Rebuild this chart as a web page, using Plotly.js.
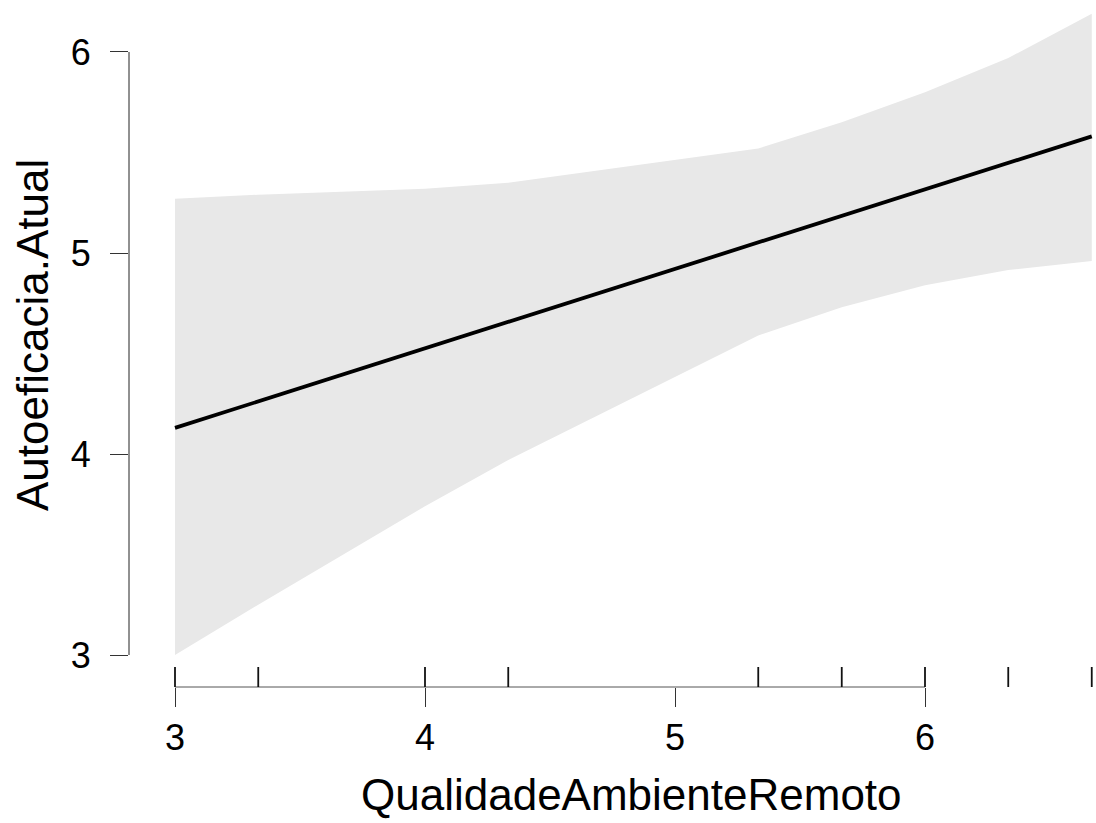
<!DOCTYPE html>
<html>
<head>
<meta charset="utf-8">
<script src="https://cdn.plot.ly/plotly-3.0.1.min.js"></script>
<style>html,body{margin:0;padding:0;background:#fff;}#chart{width:1096px;height:823px;}</style>
</head>
<body>
<div id="chart"></div>
<script>
// Data
const xGrid  = [3, 3.333, 4, 4.333, 5.333, 5.667, 6, 6.333, 6.667];
const upper  = [5.27, 5.29, 5.32, 5.35, 5.52, 5.65, 5.80, 5.97, 6.19];
const lower  = [3.00, 3.25, 3.74, 3.97, 4.59, 4.73, 4.84, 4.915, 4.96];
const fitX   = [3, 6.667];
const fitY   = [4.13, 5.58];
const rugX   = [3, 3.333, 4, 4.333, 5.333, 5.667, 6, 6.333, 6.667];
const xTicks = [3, 4, 5, 6];
const yTicks = [3, 4, 5, 6];
const xTitle = "QualidadeAmbienteRemoto";
const yTitle = "Autoeficacia.Atual";

const FONT = "Liberation Sans, Arial, sans-serif";

const traces = [
  {x: xGrid, y: lower, mode: "lines", line: {width: 0, color: "rgba(0,0,0,0)"}, hoverinfo: "skip", showlegend: false},
  {x: xGrid, y: upper, mode: "lines", fill: "tonexty", fillcolor: "#e8e8e8", line: {width: 0, color: "rgba(0,0,0,0)"}, hoverinfo: "skip", showlegend: false},
  {x: fitX, y: fitY, mode: "lines", line: {color: "#000", width: 3.8}, showlegend: false}
];

const shapes = [];
// x axis line spanning the tick range
shapes.push({type: "line", xref: "x", yref: "paper", x0: Math.min(...xTicks), x1: Math.max(...xTicks), y0: 0, y1: 0, line: {color: "#555", width: 1}});
// y axis line spanning the tick range
shapes.push({type: "line", xref: "paper", yref: "y", x0: 0, x1: 0, y0: Math.min(...yTicks), y1: Math.max(...yTicks), line: {color: "#222", width: 1}});
// rug
rugX.forEach(v => shapes.push({type: "line", xref: "x", yref: "paper", ysizemode: "pixel", yanchor: 0, x0: v, x1: v, y0: 0, y1: 20, line: {color: "#111", width: 1.8}}));

const layout = {
  width: 1096, height: 823,
  margin: {l: 129, r: 1, t: 5, b: 136},
  paper_bgcolor: "#fff", plot_bgcolor: "#fff",
  showlegend: false,
  font: {family: FONT, color: "#000"},
  xaxis: {
    range: [2.816, 6.68], showgrid: false, zeroline: false, showline: false,
    tickmode: "array", tickvals: xTicks, ticktext: xTicks.map(String),
    ticks: "outside", ticklen: 19, tickwidth: 1, tickcolor: "#333",
    tickfont: {family: FONT, size: 36, color: "#000"}, ticklabelstandoff: 0
  },
  yaxis: {
    range: [2.8408, 6.2338], showgrid: false, zeroline: false, showline: false,
    tickmode: "array", tickvals: yTicks, ticktext: yTicks.map(String),
    ticks: "outside", ticklen: 18, tickwidth: 1, tickcolor: "#333",
    tickfont: {family: FONT, size: 36, color: "#000"}, ticklabelstandoff: 12
  },
  shapes: shapes,
  annotations: [
    {text: xTitle, xref: "paper", yref: "paper", x: 0.5207, y: -0.197, xanchor: "center", yanchor: "bottom", showarrow: false, font: {family: FONT, size: 44, color: "#000"}},
    {text: yTitle, xref: "paper", yref: "paper", x: -0.1004, y: 0.5161, xanchor: "center", yanchor: "middle", textangle: -90, showarrow: false, font: {family: FONT, size: 44, color: "#000"}}
  ]
};

Plotly.newPlot("chart", traces, layout, {displayModeBar: false, staticPlot: true});
</script>
</body>
</html>
